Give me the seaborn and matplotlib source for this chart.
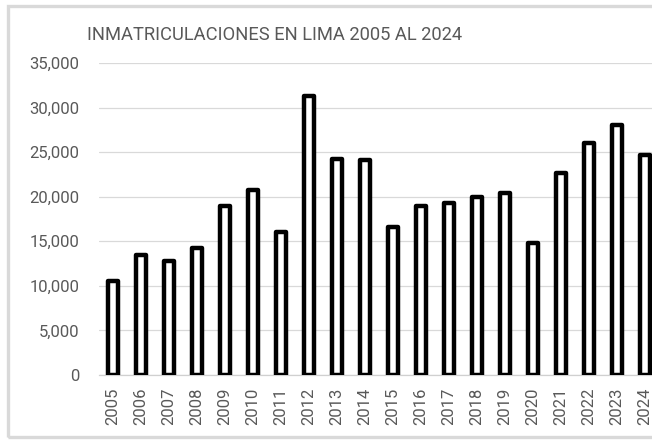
import numpy as np
import pandas as pd
import seaborn as sns
import matplotlib.pyplot as plt
from matplotlib.ticker import FuncFormatter
from matplotlib.patches import Rectangle

years = [str(y) for y in range(2005, 2025)]
registrations = [10600, 13500, 12800, 14300, 19000, 20800, 16000, 31300, 24200, 24100,
                 16600, 19000, 19300, 20000, 20400, 14800, 22700, 26000, 28100, 24700]
y_ticks = [0, 5000, 10000, 15000, 20000, 25000, 30000, 35000]
title = 'INMATRICULACIONES EN LIMA 2005 AL 2024'

sns.set_style('white')
plt.rcParams['font.family'] = ['Roboto', 'DejaVu Sans']

W, H = 652, 441
fig = plt.figure(figsize=(W / 100, H / 100), dpi=100)
# axes box in pixels: left 99, right 659 (cut off by the figure), y=0 at 375, top at 63
ax = fig.add_axes([99 / W, (H - 375) / H, 560 / W, 312 / H])

df = pd.DataFrame({'year': years, 'value': registrations})
sns.barplot(data=df, x='year', y='value', color='white', edgecolor='black',
            linewidth=3.2, width=0.36, saturation=1, ax=ax, zorder=3)
for p in ax.patches:
    p.set_joinstyle('round')

ax.set_xlim(-0.5, len(years) - 0.5)
ax.set_ylim(0, 35000)
ax.set_yticks(y_ticks)
ax.yaxis.set_major_formatter(FuncFormatter(lambda v, _: f'{int(v):,}'))
ax.grid(axis='y', color='#d9d9d9', linewidth=0.9, zorder=0)
ax.set_axisbelow(True)
ax.set_xlabel('')
ax.set_ylabel('')
for s in ['top', 'right', 'left']:
    ax.spines[s].set_visible(False)
ax.spines['bottom'].set_color('#d0d0d0')
ax.spines['bottom'].set_linewidth(0.9)
ax.tick_params(axis='y', length=0, pad=14, labelsize=12, labelcolor='#595959')
ax.tick_params(axis='x', length=0, pad=9, labelsize=12, labelcolor='#595959',
               labelrotation=90)

fig.text(87 / W, 1 - 35 / H, title, fontsize=13.2, color='#595959', va='center', ha='left')

# chart frame
fig.patches.append(Rectangle((8 / W, 4 / H), 700 / W, 431 / H, transform=fig.transFigure,
                             fill=False, edgecolor='#d9d9d9', linewidth=2.4))

fig.savefig('out.png', dpi=100)
